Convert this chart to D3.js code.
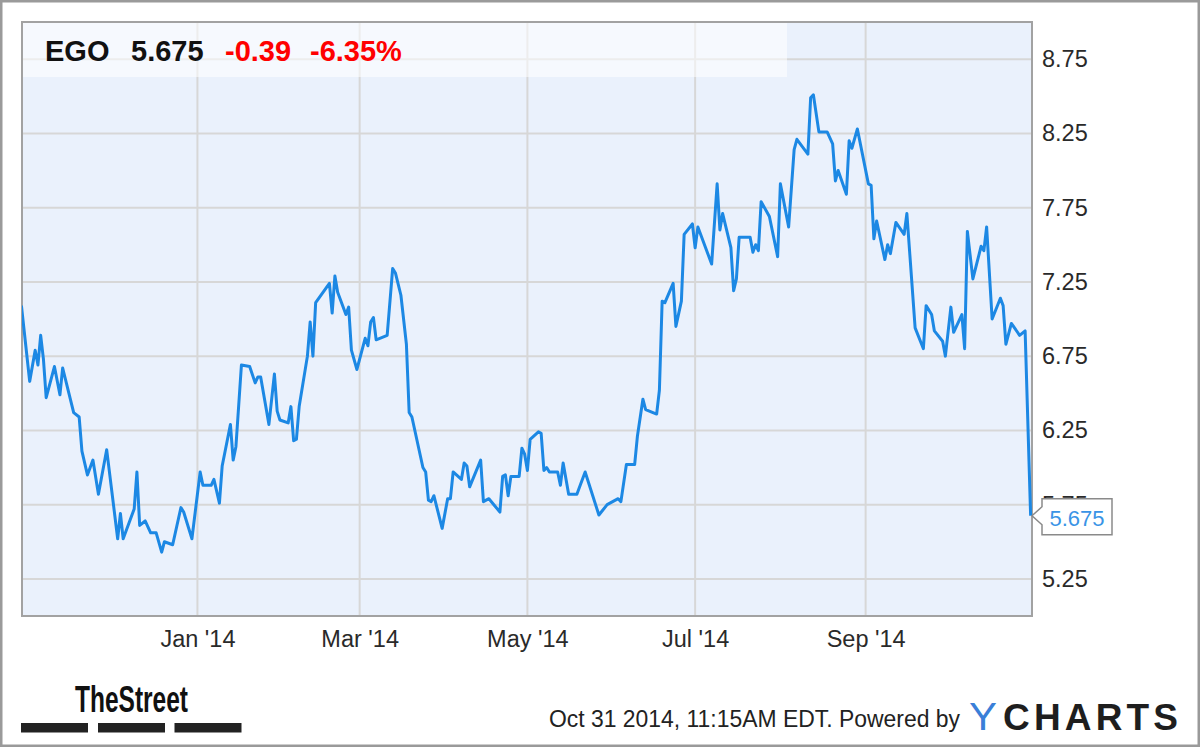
<!DOCTYPE html>
<html>
<head>
<meta charset="utf-8">
<script src="https://cdn.jsdelivr.net/npm/d3@7/dist/d3.min.js"></script>
<style>
  html, body { margin: 0; padding: 0; background: #fff; }
  svg { display: block; }
  text { font-family: "Liberation Sans", Arial, sans-serif; }
</style>
</head>
<body>
<svg id="chart" width="1200" height="747"></svg>
<script>
// ---------- DATA ----------
const ticker = "EGO";
const lastPrice = "5.675";
const change = "-0.39";
const changePct = "-6.35%";
const timestamp = "Oct 31 2014, 11:15AM EDT. Powered by";

const dates = [
  "2013-10-29","2013-11-01","2013-11-03","2013-11-04","2013-11-05","2013-11-06","2013-11-07","2013-11-10",
  "2013-11-12","2013-11-13","2013-11-15","2013-11-17","2013-11-19","2013-11-20","2013-11-22","2013-11-24",
  "2013-11-26","2013-11-29","2013-12-03","2013-12-04","2013-12-05","2013-12-09","2013-12-10","2013-12-11",
  "2013-12-13","2013-12-15","2013-12-17","2013-12-19","2013-12-20","2013-12-23","2013-12-26","2013-12-27",
  "2013-12-30","2014-01-02","2014-01-03","2014-01-06","2014-01-07","2014-01-09","2014-01-10","2014-01-13",
  "2014-01-14","2014-01-15","2014-01-17","2014-01-20","2014-01-22","2014-01-23","2014-01-24","2014-01-27",
  "2014-01-29","2014-01-30","2014-01-31","2014-02-03","2014-02-04","2014-02-05","2014-02-06","2014-02-07",
  "2014-02-10","2014-02-11","2014-02-12","2014-02-13","2014-02-18","2014-02-19","2014-02-20","2014-02-21",
  "2014-02-24","2014-02-25","2014-02-26","2014-02-28","2014-03-03","2014-03-04","2014-03-05","2014-03-06",
  "2014-03-07","2014-03-11","2014-03-13","2014-03-14","2014-03-16","2014-03-18","2014-03-19","2014-03-20",
  "2014-03-24","2014-03-25","2014-03-26","2014-03-27","2014-03-28","2014-03-31","2014-04-02","2014-04-03",
  "2014-04-04","2014-04-07","2014-04-08","2014-04-09","2014-04-10","2014-04-14","2014-04-15","2014-04-17",
  "2014-04-21","2014-04-22","2014-04-23","2014-04-24","2014-04-25","2014-04-28","2014-04-29","2014-04-30",
  "2014-05-01","2014-05-02","2014-05-05","2014-05-06","2014-05-07","2014-05-08","2014-05-09","2014-05-12",
  "2014-05-13","2014-05-14","2014-05-16","2014-05-19","2014-05-20","2014-05-22","2014-05-27","2014-05-30",
  "2014-06-01","2014-06-03","2014-06-04","2014-06-06","2014-06-09","2014-06-10","2014-06-12","2014-06-13",
  "2014-06-17","2014-06-18","2014-06-19","2014-06-20","2014-06-23","2014-06-24","2014-06-26","2014-06-27",
  "2014-06-30","2014-07-01","2014-07-02","2014-07-07","2014-07-09","2014-07-10","2014-07-11","2014-07-14",
  "2014-07-15","2014-07-16","2014-07-17","2014-07-21","2014-07-22","2014-07-23","2014-07-24","2014-07-25",
  "2014-07-28","2014-07-31","2014-08-01","2014-08-04","2014-08-06","2014-08-07","2014-08-11","2014-08-12",
  "2014-08-13","2014-08-15","2014-08-18","2014-08-20","2014-08-21","2014-08-22","2014-08-25","2014-08-26",
  "2014-08-27","2014-08-29","2014-09-02","2014-09-03","2014-09-04","2014-09-05","2014-09-08","2014-09-09",
  "2014-09-10","2014-09-12","2014-09-15","2014-09-16","2014-09-19","2014-09-22","2014-09-23","2014-09-25",
  "2014-09-26","2014-09-29","2014-09-30","2014-10-02","2014-10-03","2014-10-06","2014-10-07","2014-10-08",
  "2014-10-10","2014-10-13","2014-10-14","2014-10-15","2014-10-17","2014-10-20","2014-10-21","2014-10-22",
  "2014-10-24","2014-10-27","2014-10-29","2014-10-31"
];
const prices = [
  7.09,6.58,6.79,6.69,6.89,6.73,6.47,6.68,
  6.49,6.67,6.52,6.37,6.34,6.11,5.95,6.05,
  5.82,6.12,5.52,5.69,5.52,5.72,5.97,5.61,
  5.64,5.56,5.56,5.43,5.50,5.48,5.73,5.70,
  5.52,5.97,5.88,5.88,5.92,5.76,6.01,6.29,
  6.05,6.14,6.69,6.68,6.57,6.61,6.61,6.29,
  6.63,6.38,6.32,6.30,6.41,6.18,6.19,6.41,
  6.75,6.98,6.75,7.11,7.24,7.04,7.29,7.18,
  7.03,7.08,6.79,6.66,6.87,6.82,6.98,7.01,
  6.86,6.89,7.34,7.31,7.16,6.83,6.37,6.34,
  6.00,5.97,5.78,5.77,5.81,5.59,5.79,5.79,
  5.97,5.92,6.03,6.01,5.87,6.05,5.77,5.79,
  5.70,5.94,5.95,5.81,5.94,5.94,6.13,6.09,
  5.98,6.19,6.24,6.23,5.98,6.00,5.97,5.97,
  5.88,6.03,5.82,5.82,5.87,5.97,5.68,5.75,
  5.77,5.79,5.77,6.02,6.02,6.21,6.46,6.39,
  6.36,6.52,7.12,7.11,7.24,6.95,7.12,7.57,
  7.64,7.48,7.62,7.37,7.91,7.60,7.71,7.48,
  7.19,7.27,7.55,7.55,7.45,7.50,7.46,7.79,
  7.69,7.42,7.91,7.62,8.14,8.21,8.11,8.49,
  8.51,8.26,8.26,8.18,7.93,8.00,7.84,8.20,
  8.15,8.28,7.91,7.90,7.54,7.66,7.40,7.50,
  7.44,7.65,7.57,7.71,6.94,6.80,7.09,7.03,
  6.92,6.85,6.75,7.08,6.91,7.03,6.80,7.59,
  7.27,7.49,7.46,7.62,7.00,7.14,7.09,6.83,
  6.97,6.89,6.92,5.675
];

const xDomain = ["2013-10-29T05:00", "2014-10-31T12:00"];
const xTicks = ["2014-01-01","2014-03-01","2014-05-01","2014-07-01","2014-09-01"];
const yDomain = [5.0, 9.0];
const yTicks = [5.25, 5.75, 6.25, 6.75, 7.25, 7.75, 8.25, 8.75];

// ---------- LAYOUT ----------
const W = 1200, H = 747;
const plot = { left: 22, top: 22, right: 1032, bottom: 616 };

const parseDay = d3.timeParse("%Y-%m-%d");
const parseDT = d3.timeParse("%Y-%m-%dT%H:%M");
const data = dates.map((d, i) => ({ date: parseDay(d), value: prices[i] }));

const x = d3.scaleTime().domain(xDomain.map(parseDT)).range([plot.left, plot.right]);
const y = d3.scaleLinear().domain(yDomain).range([plot.bottom, plot.top]);

const svg = d3.select("#chart");

// outer frame
svg.append("rect")
  .attr("x", 1.25).attr("y", 1.25).attr("width", W - 2.5).attr("height", H - 2.5)
  .attr("fill", "#fff").attr("stroke", "#9a9a9a").attr("stroke-width", 2.5);

// plot background
svg.append("rect")
  .attr("x", plot.left).attr("y", plot.top)
  .attr("width", plot.right - plot.left).attr("height", plot.bottom - plot.top)
  .attr("fill", "#eaf1fc");

// gridlines
const grid = svg.append("g");
grid.selectAll("line.h").data(yTicks).join("line")
  .attr("x1", plot.left).attr("x2", plot.right)
  .attr("y1", d => y(d)).attr("y2", d => y(d))
  .attr("stroke", "#d7d7d7").attr("stroke-width", 2);
grid.selectAll("line.v").data(xTicks.map(parseDay)).join("line")
  .attr("y1", plot.top).attr("y2", plot.bottom)
  .attr("x1", d => x(d)).attr("x2", d => x(d))
  .attr("stroke", "#d7d7d7").attr("stroke-width", 2);

// header band
svg.append("rect")
  .attr("x", plot.left).attr("y", plot.top)
  .attr("width", 765).attr("height", 55)
  .attr("fill", "#ffffff").attr("opacity", 0.55);

// plot border
svg.append("rect")
  .attr("x", plot.left).attr("y", plot.top)
  .attr("width", plot.right - plot.left).attr("height", plot.bottom - plot.top)
  .attr("fill", "none").attr("stroke", "#a2a2a2").attr("stroke-width", 2);

// clip
svg.append("clipPath").attr("id", "clip").append("rect")
  .attr("x", plot.left).attr("y", plot.top)
  .attr("width", plot.right - plot.left + 2).attr("height", plot.bottom - plot.top);

// line
const line = d3.line().x(d => x(d.date)).y(d => y(d.value));
svg.append("path")
  .datum(data)
  .attr("clip-path", "url(#clip)")
  .attr("d", line)
  .attr("fill", "none")
  .attr("stroke", "#1c88e4")
  .attr("stroke-width", 3)
  .attr("stroke-linejoin", "round");

// y axis labels (right)
const yAxis = d3.axisRight(y).tickValues(yTicks).tickFormat(d3.format(".2f")).tickSize(0).tickPadding(10);
const yg = svg.append("g").attr("transform", `translate(${plot.right},0)`).call(yAxis);
yg.select(".domain").remove();
yg.selectAll("text").attr("font-size", 23.5).attr("fill", "#2a2a2a")
  .attr("font-family", "'Liberation Sans', Arial, sans-serif");

// x axis labels
const xAxis = d3.axisBottom(x).tickValues(xTicks.map(parseDay)).tickFormat(d3.timeFormat("%b '%y")).tickSize(0).tickPadding(14);
const xg = svg.append("g").attr("transform", `translate(0,${plot.bottom})`).call(xAxis);
xg.select(".domain").remove();
xg.selectAll("text").attr("font-size", 23.5).attr("fill", "#2a2a2a")
  .attr("font-family", "'Liberation Sans', Arial, sans-serif");

// header text
const head = svg.append("text").attr("y", 61).attr("font-size", 29).attr("font-weight", "bold");
head.append("tspan").attr("x", 45).attr("fill", "#111").text(ticker);
head.append("tspan").attr("x", 131).attr("fill", "#111").text(lastPrice);
head.append("tspan").attr("x", 225).attr("fill", "#ff0000").text(change);
head.append("tspan").attr("x", 310).attr("fill", "#ff0000").text(changePct);

// last value callout
const last = data[data.length - 1];
const ly = y(last.value);
const bx = plot.right + 10, bw = 70, bh = 36;
svg.append("path")
  .attr("d", `M${plot.right},${ly} L${bx},${ly - 9} L${bx},${ly - 17} L${bx + bw},${ly - 17} L${bx + bw},${ly + 19} L${bx},${ly + 19} L${bx},${ly + 9} Z`)
  .attr("fill", "#fff").attr("stroke", "#8a8a8a").attr("stroke-width", 1.5);
svg.append("text")
  .attr("x", bx + bw / 2).attr("y", ly + 10)
  .attr("text-anchor", "middle").attr("font-size", 22).attr("fill", "#3a94e6")
  .text(lastPrice);

// footer: TheStreet logo
svg.append("text")
  .attr("x", 75).attr("y", 712)
  .attr("font-family", "'Liberation Sans Narrow', 'DejaVu Sans Condensed', 'Liberation Sans', sans-serif")
  .attr("font-weight", "bold").attr("font-size", 36).attr("fill", "#111")
  .attr("textLength", 113).attr("lengthAdjust", "spacingAndGlyphs")
  .text("TheStreet");
const barsX = [21, 98, 174.5];
svg.selectAll("rect.bar").data(barsX).join("rect")
  .attr("x", d => d).attr("y", 723).attr("width", 67).attr("height", 9.5)
  .attr("fill", "#222");

// timestamp
svg.append("text")
  .attr("x", 549).attr("y", 727)
  .attr("font-size", 23).attr("fill", "#222")
  .attr("textLength", 411).attr("lengthAdjust", "spacingAndGlyphs")
  .text(timestamp);

// YCHARTS logo
svg.append("text").attr("x", 969).attr("y", 730)
  .attr("font-size", 38).attr("fill", "#3a7fd8")
  .attr("textLength", 28).attr("lengthAdjust", "spacingAndGlyphs")
  .text("Y");
svg.append("text").attr("x", 1003).attr("y", 730)
  .attr("font-size", 37).attr("font-weight", "bold").attr("fill", "#1e1e1e")
  .attr("textLength", 175).attr("lengthAdjust", "spacing")
  .text("CHARTS");
</script>
</body>
</html>
